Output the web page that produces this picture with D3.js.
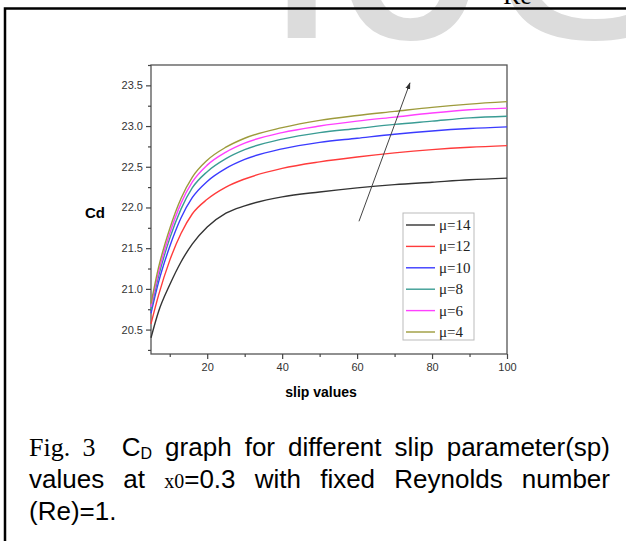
<!DOCTYPE html>
<html>
<head>
<meta charset="utf-8">
<script src="https://cdn.jsdelivr.net/npm/d3@7"></script>
<style>
  body { margin: 0; background: #fff; }
  #root { position: relative; width: 626px; height: 541px; overflow: hidden; }
  svg { position: absolute; left: 0; top: 0; }
  .cap { position: absolute; left: 29px; width: 581px; font-family: "Liberation Sans", Arial, sans-serif;
         font-size: 26px; color: #000; white-space: nowrap; line-height: 32px; }
  .just { text-align: justify; text-align-last: justify; white-space: normal; }
  .serif { font-family: "Liberation Serif", "Times New Roman", serif; }
</style>
</head>
<body>
<div id="root"></div>
<script>
// slip parameter values (x)
var slip = [5, 7, 10, 13, 16, 20, 25, 30, 40, 50, 60, 70, 80, 90, 100];

// Cd for each mu
var mu14 = [20.40, 20.72, 21.05, 21.33, 21.55, 21.76, 21.93, 22.02, 22.13, 22.19, 22.24, 22.28, 22.31, 22.34, 22.36];
var mu12 = [20.57, 20.92, 21.35, 21.68, 21.92, 22.10, 22.25, 22.35, 22.48, 22.56, 22.62, 22.67, 22.71, 22.74, 22.76];
var mu10 = [20.70, 21.08, 21.52, 21.87, 22.12, 22.32, 22.48, 22.59, 22.72, 22.80, 22.85, 22.90, 22.94, 22.97, 22.99];
var mu8  = [20.74, 21.15, 21.62, 21.98, 22.24, 22.44, 22.60, 22.71, 22.84, 22.92, 22.97, 23.02, 23.06, 23.10, 23.12];
var mu6  = [20.78, 21.20, 21.68, 22.05, 22.31, 22.52, 22.68, 22.79, 22.92, 23.00, 23.06, 23.11, 23.16, 23.20, 23.22];
var mu4  = [20.82, 21.26, 21.74, 22.11, 22.37, 22.58, 22.74, 22.85, 22.98, 23.07, 23.13, 23.18, 23.23, 23.27, 23.30];

var seriesNames = ["\u03bc=14", "\u03bc=12", "\u03bc=10", "\u03bc=8", "\u03bc=6", "\u03bc=4"];
var seriesValues = [mu14, mu12, mu10, mu8, mu6, mu4];
var colors = ["#333333", "#ff3b3b", "#3b3bff", "#3a9c94", "#ff40ff", "#9d9b3c"];

var xTicks = [20, 40, 60, 80, 100];
var xMinor = [10, 30, 50, 70, 90];
var yTicks = [20.5, 21.0, 21.5, 22.0, 22.5, 23.0, 23.5];
var yMinor = [20.25, 20.75, 21.25, 21.75, 22.25, 22.75, 23.25, 23.75];

// arrow annotation (data units): tail -> head
var arrowFrom = [60.5, 21.83], arrowTo = [74.1, 23.53];

var W = 626, H = 541;
var pLeft = 151, pRight = 507, pTop = 65, pBottom = 354;

var root = d3.select("#root");
var svg = root.append("svg").attr("width", W).attr("height", H);

// watermark + page border
svg.append("text")
   .attr("x", 260).attr("y", 38)
   .style("font-family", "Liberation Sans, Arial, sans-serif")
   .style("font-size", "300px")
   .attr("fill", "#dcdcdc")
   .text("IJSER");

svg.append("text")
   .attr("x", 503).attr("y", 4)
   .style("font-family", "Liberation Serif, Times New Roman, serif")
   .style("font-size", "26px")
   .text("Re");

svg.append("path")
   .attr("d", "M5," + H + "V8.5H" + W)
   .attr("fill", "none").attr("stroke", "#000").attr("stroke-width", 2.5);

var x = d3.scaleLinear().domain([5, 100]).range([pLeft, pRight]);
var y = d3.scaleLinear().domain([20.2, 23.75]).range([pBottom, pTop]);

// frame
svg.append("rect")
   .attr("x", pLeft).attr("y", pTop)
   .attr("width", pRight - pLeft).attr("height", pBottom - pTop)
   .attr("fill", "#fff").attr("stroke", "#555").attr("stroke-width", 1.3);

function styleAxis(g) {
  g.select(".domain").remove();
  g.selectAll("line").attr("stroke", "#444").attr("stroke-width", 1.2);
  g.selectAll("text").attr("fill", "#333")
   .style("font-family", "Liberation Sans, Arial, sans-serif").style("font-size", "11px");
}

svg.append("g").attr("transform", "translate(0," + pBottom + ")")
   .call(d3.axisBottom(x).tickValues(xTicks).tickSize(5).tickPadding(4).tickFormat(d3.format("d")))
   .call(styleAxis);
svg.append("g").attr("transform", "translate(0," + pBottom + ")")
   .call(d3.axisBottom(x).tickValues(xMinor).tickSize(3).tickFormat(""))
   .call(styleAxis);

svg.append("g").attr("transform", "translate(" + pLeft + ",0)")
   .call(d3.axisLeft(y).tickValues(yTicks).tickSize(5).tickPadding(3).tickFormat(d3.format(".1f")))
   .call(styleAxis);
svg.append("g").attr("transform", "translate(" + pLeft + ",0)")
   .call(d3.axisLeft(y).tickValues(yMinor).tickSize(3).tickFormat(""))
   .call(styleAxis);

// curves
var line = d3.line()
   .x(function(d) { return x(d[0]); })
   .y(function(d) { return y(d[1]); })
   .curve(d3.curveMonotoneX);

seriesValues.forEach(function(vals, i) {
  svg.append("path")
     .datum(slip.map(function(s, j) { return [s, vals[j]]; }))
     .attr("d", line)
     .attr("fill", "none")
     .attr("stroke", colors[i])
     .attr("stroke-width", 1.4);
});

// arrow
svg.append("defs").append("marker")
   .attr("id", "ah").attr("viewBox", "0 0 10 10")
   .attr("refX", 9).attr("refY", 5)
   .attr("markerWidth", 7).attr("markerHeight", 7)
   .attr("orient", "auto")
   .append("path").attr("d", "M0,1.5L10,5L0,8.5Z").attr("fill", "#333");

svg.append("line")
   .attr("x1", x(arrowFrom[0])).attr("y1", y(arrowFrom[1]))
   .attr("x2", x(arrowTo[0])).attr("y2", y(arrowTo[1]))
   .attr("stroke", "#444").attr("stroke-width", 1)
   .attr("marker-end", "url(#ah)");

// legend
var lg = svg.append("g");
lg.append("rect")
  .attr("x", 403).attr("y", 213).attr("width", 71).attr("height", 127)
  .attr("fill", "#fff").attr("stroke", "#bbb");
seriesNames.forEach(function(name, i) {
  var ly = 225 + i * 21.4;
  lg.append("line").attr("x1", 406).attr("x2", 435).attr("y1", ly).attr("y2", ly)
    .attr("stroke", colors[i]).attr("stroke-width", 1.4);
  lg.append("text").attr("x", 439).attr("y", ly + 5)
    .style("font-family", "Liberation Serif, Times New Roman, serif").style("font-size", "15px")
    .attr("fill", "#222").text(name);
});

// axis titles
svg.append("text").attr("x", 95).attr("y", 218).attr("text-anchor", "middle")
   .style("font-family", "Liberation Sans, Arial, sans-serif").style("font-size", "15px")
   .style("font-weight", "bold").text("Cd");
svg.append("text").attr("x", 321).attr("y", 397).attr("text-anchor", "middle")
   .style("font-family", "Liberation Sans, Arial, sans-serif").style("font-size", "14px")
   .style("font-weight", "bold").text("slip values");

// caption
var c1 = root.append("div").attr("class", "cap just").style("top", "431px");
c1.html('<span class="serif">Fig.&nbsp;3</span>&nbsp; C<sub style="font-size:16px;vertical-align:-3px">D</sub> graph for different slip parameter(sp)');
var c2 = root.append("div").attr("class", "cap just").style("top", "463px");
c2.html('values at <span class="serif" style="font-size:20px">x0</span>=0.3 with fixed Reynolds number');
root.append("div").attr("class", "cap").style("top", "495px").text("(Re)=1.");
</script>
</body>
</html>
